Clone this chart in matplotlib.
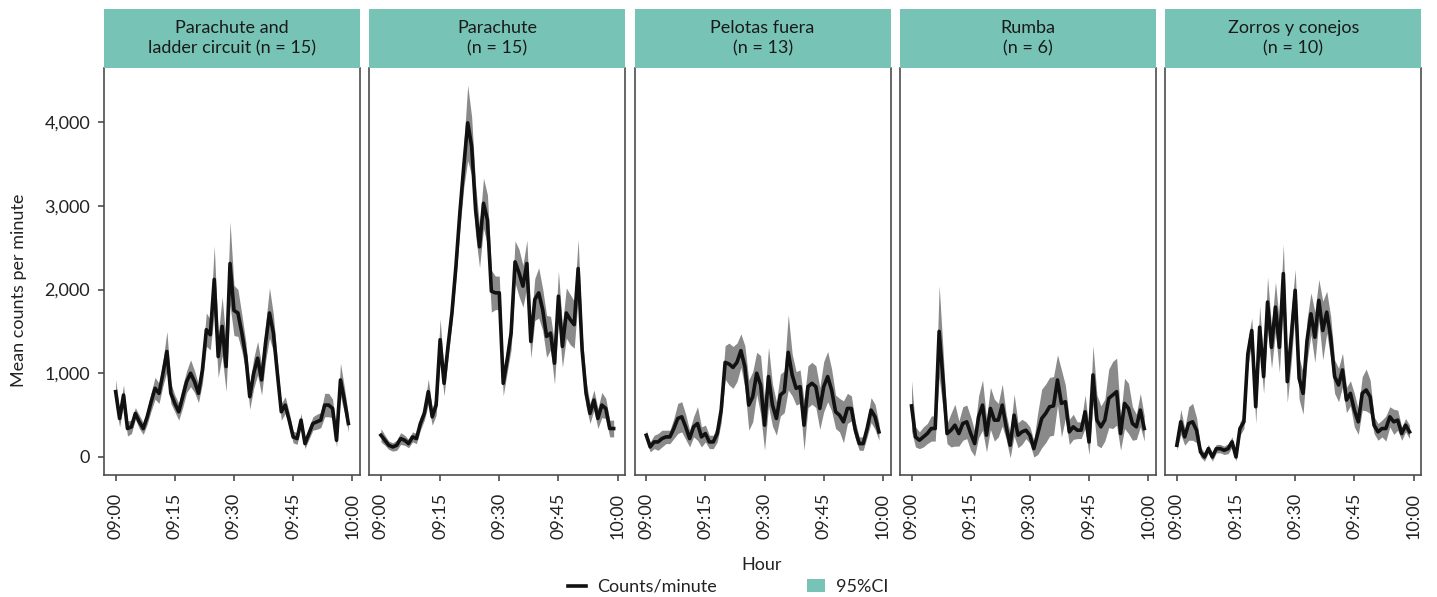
import numpy as np
import matplotlib
matplotlib.use("Agg")
import matplotlib.pyplot as plt
from matplotlib.lines import Line2D
from matplotlib.patches import Patch

plt.rcParams["font.family"] = ["Lato", "DejaVu Sans"]

# minutes after 09:00
minutes = np.arange(60)
tick_pos = [0, 15, 30, 45, 60]
tick_labels = ["09:00", "09:15", "09:30", "09:45", "10:00"]
y_ticks = [0, 1000, 2000, 3000, 4000]

titles = [
    "Parachute and\nladder circuit (n = 15)",
    "Parachute\n(n = 15)",
    "Pelotas fuera\n(n = 13)",
    "Rumba\n(n = 6)",
    "Zorros y conejos\n(n = 10)",
]

parachute_ladder = [780, 460, 740, 340, 360, 520, 420, 340, 480, 660,
                    820, 760, 1000, 1260, 760, 640, 540, 720, 900, 1000,
                    900, 760, 1040, 1520, 1460, 2120, 1200, 1560, 1080, 2310,
                    1750, 1720, 1480, 1200, 720, 1000, 1180, 920, 1360, 1720,
                    1480, 1000, 540, 620, 440, 240, 220, 440, 160, 280,
                    400, 420, 440, 620, 620, 580, 200, 920, 680, 400]
parachute = [260, 200, 140, 120, 140, 220, 200, 160, 240, 220,
             400, 520, 780, 480, 620, 1400, 880, 1320, 1720, 2270,
             2910, 3470, 3990, 3710, 2950, 2510, 3030, 2830, 1980, 1960,
             1960, 880, 1160, 1480, 2330, 2200, 2040, 2310, 1380, 1880,
             1960, 1760, 1440, 1480, 1120, 1920, 1320, 1720, 1640, 1580,
             2250, 1280, 760, 520, 680, 460, 620, 580, 340, 340]
pelotas = [260, 120, 180, 180, 220, 240, 240, 340, 460, 480,
           360, 220, 360, 400, 240, 280, 180, 180, 280, 560,
           1130, 1110, 1070, 1130, 1270, 1080, 620, 720, 1000, 860,
           380, 960, 620, 460, 740, 780, 1250, 980, 820, 840,
           380, 840, 880, 840, 580, 840, 960, 800, 540, 500,
           420, 580, 580, 320, 160, 160, 340, 560, 480, 300]
rumba = [610, 240, 200, 240, 280, 340, 340, 1500, 920, 280,
         320, 380, 280, 400, 420, 280, 160, 480, 620, 260,
         580, 440, 440, 620, 360, 140, 500, 260, 300, 320,
         260, 100, 280, 460, 520, 600, 610, 920, 640, 660,
         300, 360, 320, 320, 540, 180, 980, 440, 360, 440,
         700, 740, 780, 280, 640, 580, 400, 360, 560, 340]
zorros = [140, 420, 240, 400, 420, 320, 60, 0, 100, 0,
          100, 100, 80, 100, 180, 0, 340, 420, 1230, 1510,
          600, 1550, 960, 1850, 1310, 1790, 1310, 2190, 900, 1430,
          1990, 940, 760, 1390, 1710, 1430, 1870, 1510, 1730, 1430,
          960, 860, 1040, 680, 760, 560, 420, 760, 800, 720,
          380, 300, 340, 340, 480, 420, 440, 280, 380, 300]

# 95% CI half widths
ci_parachute_ladder = [150, 100, 120, 90, 80, 70, 80, 70, 90, 110,
                       130, 120, 150, 240, 120, 100, 100, 130, 130, 160,
                       130, 110, 160, 200, 180, 400, 250, 350, 300, 500,
                       300, 280, 220, 180, 150, 180, 200, 180, 220, 300,
                       220, 150, 100, 100, 90, 70, 70, 80, 60, 70,
                       80, 90, 90, 140, 140, 110, 80, 200, 150, 100]
ci_parachute = [80, 60, 50, 50, 60, 70, 60, 50, 60, 60,
                80, 80, 150, 100, 120, 250, 150, 150, 120, 150,
                200, 250, 450, 350, 300, 250, 300, 300, 250, 200,
                200, 150, 150, 200, 250, 280, 250, 280, 200, 250,
                300, 250, 250, 200, 250, 300, 250, 300, 300, 280,
                350, 200, 150, 120, 120, 120, 150, 120, 100, 100]
ci_pelotas = [60, 60, 80, 100, 100, 80, 80, 120, 180, 180,
              150, 100, 120, 200, 120, 100, 80, 80, 100, 150,
              200, 250, 250, 230, 200, 250, 300, 300, 250, 350,
              300, 350, 250, 200, 250, 250, 450, 250, 200, 200,
              300, 250, 250, 250, 250, 300, 300, 250, 200, 200,
              250, 180, 150, 100, 80, 80, 100, 150, 150, 100]
ci_rumba = [300, 120, 100, 120, 120, 150, 150, 550, 350, 120,
            200, 250, 150, 200, 200, 200, 150, 250, 300, 200,
            250, 250, 200, 250, 150, 150, 250, 150, 150, 100,
            100, 100, 250, 350, 350, 350, 350, 300, 400, 200,
            150, 150, 100, 100, 200, 150, 350, 300, 250, 250,
            350, 400, 400, 200, 300, 300, 200, 150, 200, 150]
ci_zorros = [60, 150, 100, 200, 220, 150, 60, 50, 50, 50,
             50, 50, 50, 60, 60, 50, 80, 80, 150, 150,
             200, 250, 200, 300, 250, 300, 300, 350, 250, 300,
             250, 250, 250, 250, 250, 300, 250, 350, 250, 250,
             200, 200, 200, 150, 150, 200, 150, 200, 250, 200,
             100, 100, 100, 150, 120, 150, 120, 80, 80, 80]

series = [parachute_ladder, parachute, pelotas, rumba, zorros]
cis = [ci_parachute_ladder, ci_parachute, ci_pelotas, ci_rumba, ci_zorros]

STRIP = "#77C4B6"
EDGE = "#4d4d4d"
FS = 13
W, H = 1437, 597

fig = plt.figure(figsize=(W / 100, H / 100), dpi=100)

for i, (vals, ci, title) in enumerate(zip(series, cis, titles)):
    left = 104 + 265.3 * i
    ax = fig.add_axes([left / W, 1 - 475 / H, 256 / W, 407 / H])
    vals = np.array(vals, dtype=float)
    ci = np.array(ci, dtype=float)
    ax.fill_between(minutes, vals - ci, vals + ci, color="#8a8a8a", lw=0)
    ax.plot(minutes, vals, color="#111111", lw=2.6, solid_joinstyle="round")
    ax.set_xlim(-2.95, 61.95)
    ax.set_ylim(-215, 4645)
    ax.set_xticks(tick_pos)
    ax.set_xticklabels(tick_labels, rotation=90, fontsize=FS, color="#222222")
    ax.set_yticks(y_ticks)
    if i == 0:
        ax.set_yticklabels([f"{v:,}" for v in y_ticks], fontsize=FS, color="#222222")
        ax.tick_params(axis="y", length=4, width=1.2, color=EDGE, pad=6)
    else:
        ax.tick_params(axis="y", length=0, labelleft=False)
    ax.tick_params(axis="x", length=4, width=1.2, color=EDGE, pad=9)
    for sp in ax.spines.values():
        sp.set_color(EDGE)
        sp.set_linewidth(1.2)
    ax.spines["top"].set_visible(False)

    sax = fig.add_axes([left / W, 1 - 68 / H, 256 / W, 59 / H])
    sax.set_facecolor(STRIP)
    sax.set_xticks([])
    sax.set_yticks([])
    for sp in sax.spines.values():
        sp.set_visible(False)
    sax.text(0.5, 0.5, title, ha="center", va="center", fontsize=FS,
             color="#1a1a1a", linespacing=1.3, transform=sax.transAxes)

fig.text(19 / W, 1 - 290 / H, "Mean counts per minute", rotation=90,
         ha="center", va="center", fontsize=FS, color="#222222")
fig.text(762 / W, 1 - 565 / H, "Hour", ha="center", va="center",
         fontsize=FS, color="#222222")

handles = [Line2D([0], [0], color="#111111", lw=2.6),
           Patch(facecolor=STRIP, edgecolor="none")]
fig.legend(handles, ["Counts/minute", "95%CI"], ncol=2, frameon=False,
           loc="center", bbox_to_anchor=(728 / W, 1 - 587 / H),
           fontsize=FS, handlelength=1.0, columnspacing=5.0,
           handletextpad=0.6, labelcolor="#222222")

fig.savefig("out.png", dpi=100)
